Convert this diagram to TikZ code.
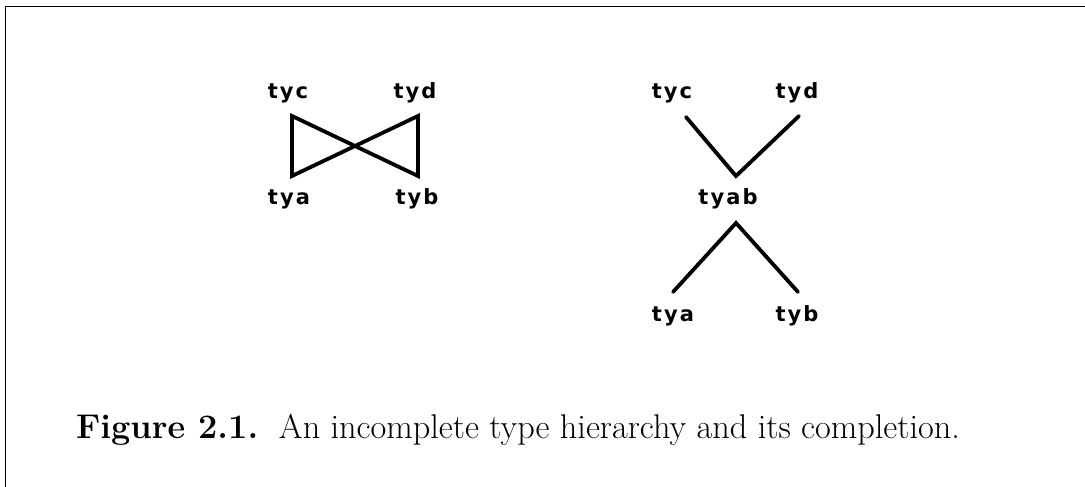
\documentclass[tikz,border=0pt]{standalone}
\usepackage{fontspec}
\newfontfamily\labelfont[LetterSpace=10]{DejaVu Sans Bold}
\begin{document}
\begin{tikzpicture}[x=1pt,y=-1pt,
  tyname/.style={font=\labelfont\fontsize{21}{23}\selectfont, inner sep=0pt},
  edge/.style={line width=3.8pt, line cap=round, line join=miter},
  frameline/.style={line width=1.4pt}]
\useasboundingbox (0,0) rectangle (1085,487);

% open frame: top and left rules
\coordinate (fTL) at (5.5,6.5);
\coordinate (fTR) at (1085,6.5);
\coordinate (fBL) at (5.5,487);
\draw[frameline] (fTR) -- (fTL) -- (fBL);

% incomplete hierarchy
\node[tyname] (Ltyc) at (288,93) {tyc};
\node[tyname] (Ltyd) at (415,93) {tyd};
\node[tyname] (Ltya) at (289,199) {tya};
\node[tyname] (Ltyb) at (417,199) {tyb};
\coordinate (Lc) at (292,116);
\coordinate (Ld) at (418,116);
\coordinate (La) at (292,176);
\coordinate (Lb) at (418,176);
\draw[edge] (Lc) -- (La) -- (Ld) -- (Lb) -- cycle;

% completed hierarchy
\node[tyname] (Rtyc) at (672,93) {tyc};
\node[tyname] (Rtyd) at (797,93) {tyd};
\node[tyname] (Rtyab) at (728,199) {tyab};
\node[tyname] (Rtya) at (673,316) {tya};
\node[tyname] (Rtyb) at (797,316) {tyb};
\coordinate (Rc) at (686,117);
\coordinate (Rd) at (799,116);
\coordinate (Rup) at (736,176);
\coordinate (Rdown) at (736,223);
\coordinate (Ra) at (673,292);
\coordinate (Rb) at (798,292);
\draw[edge] (Rc) -- (Rup) -- (Rd);
\draw[edge] (Ra) -- (Rdown) -- (Rb);

% caption
\node[anchor=base west, inner sep=0pt, font=\fontsize{34.3}{40}\selectfont] (cap) at (76,438)
  {\textbf{Figure 2.1.}\ \ An incomplete type hierarchy and its completion.};
\end{tikzpicture}
\end{document}
